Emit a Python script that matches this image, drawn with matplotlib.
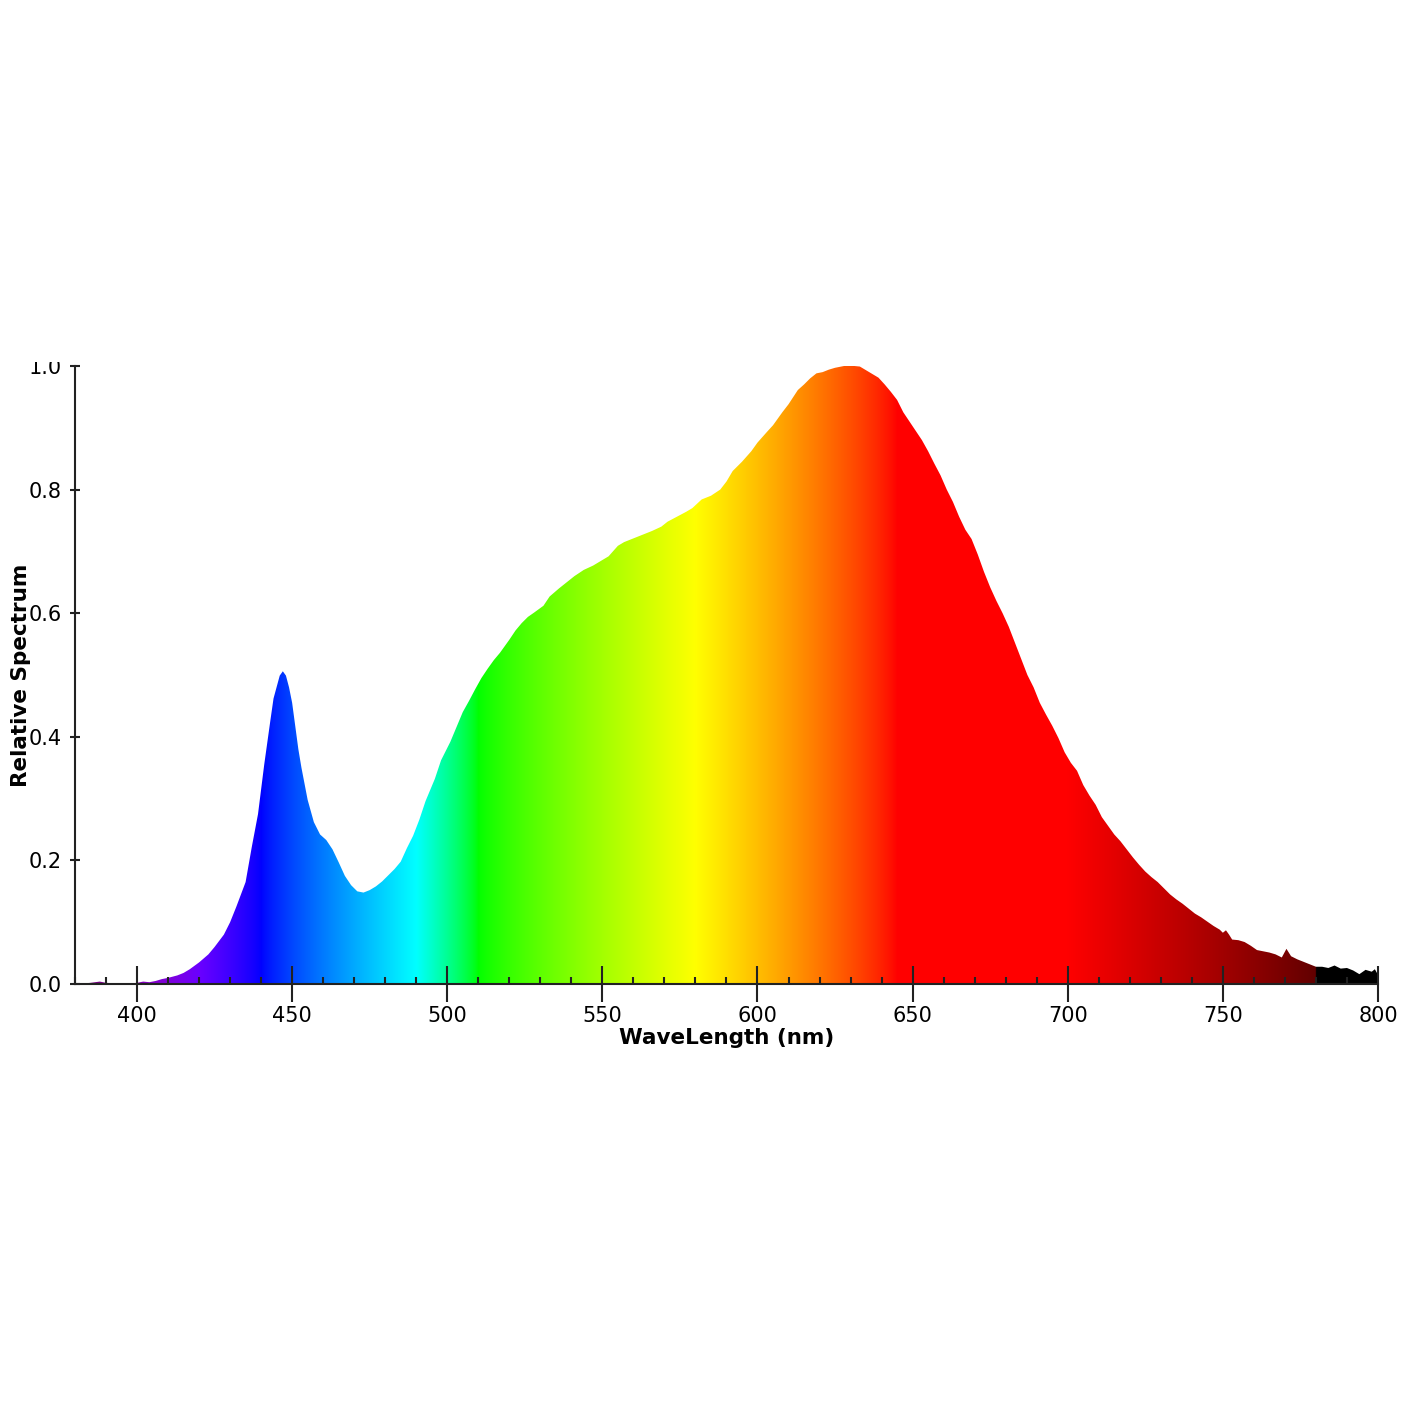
import numpy as np
import matplotlib
matplotlib.use("Agg")
import matplotlib.pyplot as plt
from matplotlib.ticker import MultipleLocator
from matplotlib.transforms import Bbox, TransformedBbox

# spectrum (nm, relative)
wavelength = [380, 383, 385, 388, 390, 393, 395, 398, 400, 402, 404, 406, 408, 410,
              413, 415, 417, 420, 423, 425, 428, 430, 432, 435, 437, 439, 441, 443,
              444, 446, 447, 448, 449, 450, 452, 453, 455, 457, 459, 461, 463, 465, 467,
              469, 471, 473, 475, 477, 479, 481, 483, 485, 487, 489, 491, 493, 496,
              498, 501, 503, 505, 507, 509, 511, 513, 515, 517, 520, 522, 524, 526,
              528, 531, 533, 536, 539, 541, 544, 547, 549, 552, 555, 557, 560, 563,
              566, 569, 571, 574, 577, 579, 582, 585, 588, 590, 592, 595, 598, 600,
              603, 605, 608, 610, 613, 615, 617, 619, 621, 623, 625, 628, 631, 633,
              635, 637, 639, 641, 643, 645, 647, 649, 651, 653, 655, 657, 659, 661,
              663, 665, 667, 669, 671, 673, 675, 677, 679, 681, 683, 685, 687, 689,
              691, 693, 695, 697, 699, 701, 703, 705, 707, 709, 711, 713, 715, 717,
              719, 721, 723, 725, 727, 729, 731, 733, 735, 737, 739, 741, 743, 745,
              747, 749, 750, 751, 752, 753, 755, 757, 759, 761, 763, 765, 767, 769,
              770.5, 772, 774, 776, 778, 780, 782, 784, 786, 788, 790, 792, 794, 796,
              798, 799, 800]
spectrum = [0.0, 0.001, 0.002, 0.004, 0.002, 0.001, 0.0, 0.001, 0.002, 0.004, 0.003, 0.005,
            0.008, 0.010, 0.014, 0.018, 0.024, 0.035, 0.048, 0.060, 0.080, 0.100, 0.125,
            0.165, 0.222, 0.275, 0.355, 0.427, 0.462, 0.499, 0.506, 0.499, 0.480, 0.455,
            0.380, 0.350, 0.298, 0.262, 0.242, 0.233, 0.218, 0.197, 0.175, 0.160, 0.150,
            0.148, 0.152, 0.158, 0.166, 0.176, 0.186, 0.198, 0.220, 0.240, 0.266, 0.296,
            0.332, 0.362, 0.392, 0.416, 0.440, 0.458, 0.477, 0.495, 0.510, 0.524, 0.536,
            0.557, 0.572, 0.584, 0.594, 0.601, 0.612, 0.627, 0.640, 0.652, 0.660, 0.670,
            0.677, 0.683, 0.692, 0.709, 0.715, 0.721, 0.727, 0.733, 0.740, 0.748, 0.756,
            0.764, 0.770, 0.784, 0.790, 0.800, 0.813, 0.830, 0.845, 0.862, 0.876, 0.893,
            0.904, 0.925, 0.938, 0.961, 0.970, 0.980, 0.988, 0.990, 0.994, 0.997, 1.0,
            1.0, 0.999, 0.993, 0.987, 0.981, 0.970, 0.958, 0.945, 0.925, 0.910, 0.895,
            0.880, 0.862, 0.842, 0.823, 0.800, 0.780, 0.756, 0.735, 0.720, 0.695, 0.667,
            0.642, 0.620, 0.600, 0.578, 0.552, 0.526, 0.500, 0.480, 0.455, 0.436, 0.418,
            0.398, 0.375, 0.358, 0.345, 0.322, 0.305, 0.290, 0.270, 0.256, 0.242, 0.231,
            0.218, 0.205, 0.193, 0.182, 0.173, 0.165, 0.155, 0.145, 0.137, 0.130, 0.122,
            0.114, 0.108, 0.101, 0.094, 0.088, 0.083, 0.087, 0.080, 0.072, 0.071, 0.068,
            0.062, 0.055, 0.053, 0.051, 0.048, 0.043, 0.057, 0.045, 0.040, 0.036, 0.032,
            0.028, 0.028, 0.026, 0.030, 0.025, 0.026, 0.022, 0.016, 0.023, 0.020, 0.024,
            0.015]

x_ticks = [400, 450, 500, 550, 600, 650, 700, 750, 800]
y_ticks = [0.0, 0.2, 0.4, 0.6, 0.8, 1.0]


def wavelength_to_rgb(w, gamma=0.8):
    # classic Bruton approximation of visible colours
    if 380 <= w < 440:
        r, g, b = -(w - 440) / 60, 0.0, 1.0
    elif 440 <= w < 490:
        r, g, b = 0.0, (w - 440) / 50, 1.0
    elif 490 <= w < 510:
        r, g, b = 0.0, 1.0, -(w - 510) / 20
    elif 510 <= w < 580:
        r, g, b = (w - 510) / 70, 1.0, 0.0
    elif 580 <= w < 645:
        r, g, b = 1.0, -(w - 645) / 65, 0.0
    elif 645 <= w <= 780:
        r, g, b = 1.0, 0.0, 0.0
    else:
        r, g, b = 0.0, 0.0, 0.0
    if 380 <= w < 420:
        f = 0.3 + 0.7 * (w - 380) / 40
    elif 420 <= w <= 700:
        f = 1.0
    elif 700 < w <= 780:
        f = 0.3 + 0.7 * (780 - w) / 80
    else:
        f = 0.0
    return [(c * f) ** gamma if c > 0 else 0.0 for c in (r, g, b)]


fig = plt.figure(figsize=(14.2, 14.2), dpi=100)
ax = fig.add_axes([0.0528, 0.3070, 0.9176, 0.4353])

grid_wl = np.linspace(380, 800, 2100)
colors = np.array([wavelength_to_rgb(w) for w in grid_wl])
img = np.tile(colors[np.newaxis, :, :], (2, 1, 1))

poly = ax.fill_between(wavelength, spectrum, 0, color="none", lw=0)
im = ax.imshow(img, extent=(380, 800, 0, 1), aspect="auto", origin="lower",
               interpolation="bilinear", zorder=1)
path = poly.get_paths()[0]
im.set_clip_path(path, transform=ax.transData)

ax.set_xlim(380, 800)
ax.set_ylim(0, 1)

ax.spines["top"].set_visible(False)
ax.spines["right"].set_visible(False)
for s in ("left", "bottom"):
    ax.spines[s].set_color("#222222")
    ax.spines[s].set_linewidth(1.5)
    ax.spines[s].set_zorder(3)

ax.set_xticks(x_ticks)
ax.xaxis.set_minor_locator(MultipleLocator(10))
ax.set_yticks(y_ticks)
ax.set_yticklabels([f"{v:.1f}" for v in y_ticks])

ax.tick_params(axis="x", which="major", direction="inout", length=26, width=1.5,
               color="#222222", labelsize=15, pad=3)
ax.tick_params(axis="x", which="minor", direction="in", length=5, width=1.5,
               color="#222222")
ax.tick_params(axis="y", which="major", direction="inout", length=7, width=1.5,
               color="#222222", labelsize=15, pad=6)

ax.set_xlabel("WaveLength (nm)", fontsize=15.5, fontweight="bold", labelpad=1)
ax.set_ylabel("Relative Spectrum", fontsize=15.5, fontweight="bold", labelpad=-2)

# the top label is cut off in the original
clip = TransformedBbox(Bbox([[0, 0], [1, 0.7454]]), fig.transFigure)
for lab in ax.get_yticklabels():
    lab.set_clip_box(clip)
    lab.set_clip_on(True)

fig.savefig("out.png", dpi=100)
